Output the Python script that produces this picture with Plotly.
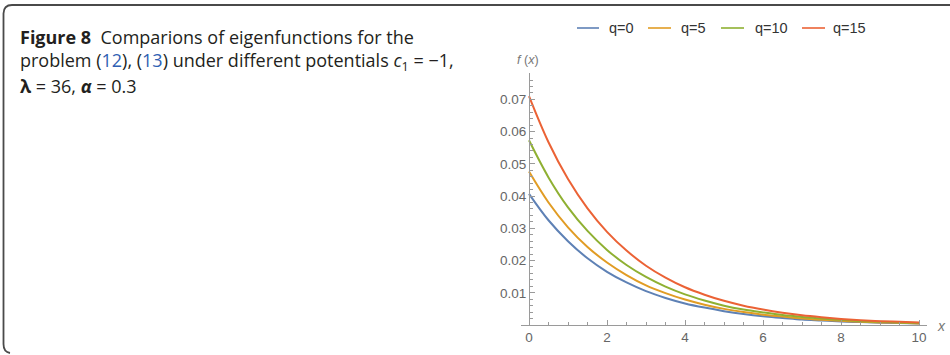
import plotly.graph_objects as go

# ---- data ----
x_vals = [0, 0.5, 1, 1.5, 2, 2.5, 3, 3.5, 4, 4.5, 5, 5.5, 6, 6.5, 7, 7.5, 8, 8.5, 9, 9.5, 10]
q0 = [0.0407, 0.0325, 0.0260, 0.0207, 0.0165, 0.0132, 0.0105, 0.0084, 0.0067, 0.0054, 0.0043,
      0.0034, 0.0027, 0.0022, 0.0017, 0.0014, 0.0011, 0.0009, 0.0007, 0.0006, 0.0005]
q5 = [0.0476, 0.0380, 0.0303, 0.0242, 0.0194, 0.0155, 0.0123, 0.0099, 0.0079, 0.0063, 0.0050,
      0.0040, 0.0032, 0.0026, 0.0020, 0.0016, 0.0013, 0.0010, 0.0008, 0.0007, 0.0005]
q10 = [0.0573, 0.0458, 0.0365, 0.0292, 0.0233, 0.0186, 0.0149, 0.0119, 0.0095, 0.0076, 0.0060,
       0.0048, 0.0039, 0.0031, 0.0025, 0.0020, 0.0016, 0.0012, 0.0010, 0.0008, 0.0006]
q15 = [0.0710, 0.0567, 0.0453, 0.0362, 0.0289, 0.0231, 0.0184, 0.0147, 0.0117, 0.0094, 0.0075,
       0.0060, 0.0048, 0.0038, 0.0030, 0.0024, 0.0019, 0.0015, 0.0012, 0.0010, 0.0008]
series_names = ["q=0", "q=5", "q=10", "q=15"]
series_values = [q0, q5, q10, q15]
series_colors = ["#5E81B5", "#E19C24", "#8FB032", "#EB6235"]
x_ticks = [0, 2, 4, 6, 8, 10]
y_ticks = [0.01, 0.02, 0.03, 0.04, 0.05, 0.06, 0.07]

# ---- layout geometry (pixels) ----
W, H = 950, 355
L, R, T, B = 521, 23, 73, 30
PW, PH = W - L - R, H - T - B
legend_line_x = [(577, 599), (648, 671), (721, 744), (802, 825)]
legend_text_x = [607, 679, 753, 831]
legend_y = 28


def px(xp):
    return (xp - L) / PW


def py(yp):
    return 1 - (yp - T) / PH


fig = go.Figure()
for name, vals, col in zip(series_names, series_values, series_colors):
    fig.add_trace(go.Scatter(x=x_vals, y=vals, mode="lines", name=name,
                             line=dict(color=col, width=2, shape="spline")))

axis_grey = "#9a9a9a"
label_grey = "#666666"

fig.update_layout(
    template="none",
    width=W, height=H, autosize=False,
    margin=dict(l=L, r=R, t=T, b=B, pad=0),
    paper_bgcolor="white", plot_bgcolor="white",
    font=dict(family="Liberation Sans, Arial, sans-serif", color=label_grey),
    showlegend=False,
    xaxis=dict(range=[-8 / 39, 398 / 39], showgrid=False, zeroline=False, automargin=False,
               showline=True, linecolor=axis_grey, linewidth=1,
               ticks="inside", ticklen=5, tickcolor=axis_grey, tickwidth=1,
               tickvals=x_ticks, ticktext=[str(v) for v in x_ticks],
               tickfont=dict(size=13.5, color=label_grey),
               minor=dict(dtick=0.5, tick0=0, ticks="inside", ticklen=3, tickcolor=axis_grey, showgrid=False)),
    yaxis=dict(range=[0, PH / 3223], showgrid=False, zeroline=False, automargin=False,
               anchor="free", position=px(529),
               showline=True, linecolor=axis_grey, linewidth=1,
               ticks="inside", ticklen=5, tickcolor=axis_grey, tickwidth=1,
               tickvals=y_ticks, ticktext=["%.2f" % v for v in y_ticks],
               tickfont=dict(size=13.5, color=label_grey),
               minor=dict(dtick=0.002, tick0=0, ticks="inside", ticklen=3, tickcolor=axis_grey, showgrid=False)),
)

annotations = []
shapes = []
# axis labels
annotations.append(dict(x=px(528), y=py(60), xref="paper", yref="paper", showarrow=False,
                        text="<i>f</i> (<i>x</i>)", font=dict(size=12.5, color="#777777",
                                                          family="Liberation Sans, sans-serif"),
                        xanchor="center", yanchor="middle"))
annotations.append(dict(x=px(941), y=py(326), xref="paper", yref="paper", showarrow=False,
                        text="<i>x</i>", font=dict(size=14, color="#777777", family="Liberation Sans, sans-serif"),
                        xanchor="center", yanchor="middle"))

# legend (drawn manually to match the reference placement)
for name, col, (x1, x2), tx in zip(series_names, series_colors, legend_line_x, legend_text_x):
    shapes.append(dict(type="line", xref="paper", yref="paper", x0=px(x1), x1=px(x2),
                       y0=py(legend_y), y1=py(legend_y), line=dict(color=col, width=1.6)))
    annotations.append(dict(x=px(tx), y=py(legend_y), xref="paper", yref="paper", showarrow=False,
                            text=name, xanchor="left", yanchor="middle",
                            font=dict(size=14.5, color="#333333", family="Liberation Sans, Arial, sans-serif")))

cap_font = dict(size=18, color="#231f20", family="Open Sans, sans-serif")
link = "<span style='color:#2f5fb3'>%s</span>"
lines = [
    "<b>Figure 8</b>  Comparions of eigenfunctions for the",
    "problem (" + link % "12" + "), (" + link % "13" + ") under different potentials <i>c</i><sub>1</sub> = \u22121,",
    "<b>\u03bb</b> = 36, <b><i>\u03b1</i></b> = 0.3",
]
line_y = [37, 61.5, 86]
for txt, yy in zip(lines, line_y):
    annotations.append(dict(x=px(18), y=py(yy), xref="paper", yref="paper", showarrow=False,
                            text=txt, font=cap_font, xanchor="left", yanchor="middle", align="left"))

# caption frame (top and left border with rounded corners)
frame_col = "#4a4a4a"
top_y = 5
shapes.append(dict(type="line", xref="paper", yref="paper", x0=px(12), x1=px(951),
                   y0=py(top_y), y1=py(top_y), line=dict(color=frame_col, width=2), layer="above"))
pts = [(12, top_y), (3.5, top_y), (3.5, top_y + 8.5), (3.5, 344), (3.5, 352), (10, 353)]
c = [(px(a), py(b)) for a, b in pts]
path = ("M %f,%f Q %f,%f %f,%f L %f,%f Q %f,%f %f,%f" %
        (c[0][0], c[0][1], c[1][0], c[1][1], c[2][0], c[2][1],
         c[3][0], c[3][1], c[4][0], c[4][1], c[5][0], c[5][1]))
shapes.append(dict(type="path", path=path, xref="paper", yref="paper",
                   line=dict(color=frame_col, width=1.8), layer="above"))
fig.update_layout(annotations=annotations, shapes=shapes)

fig.write_html("out.html", config={"displayModeBar": False},
               post_script="document.documentElement.style.margin='0px';"
                           "document.body.style.margin='0px';document.body.style.padding='0px';"
                           "document.documentElement.style.overflow='hidden';"
                           "window.scrollTo(0,0);")
